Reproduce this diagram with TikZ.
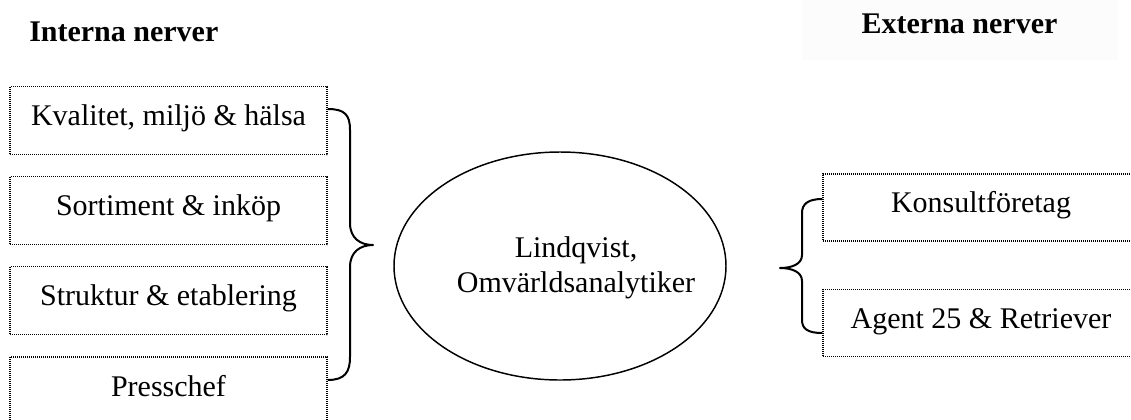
\documentclass[tikz,border=0pt]{standalone}
\usepackage{fontspec}
\setmainfont{Liberation Serif}
\usetikzlibrary{shapes.geometric}
\begin{document}
\begin{tikzpicture}[x=0.75pt,y=-0.75pt,
  txt/.style={font=\fontsize{22.5pt}{26.25pt}\selectfont, inner sep=0pt},
  dotbox/.style={txt, draw, line width=1.1pt, dash pattern=on 0.75pt off 0.75pt,
    text height=15pt, text depth=7.5pt},
  leftbox/.style={dotbox, minimum width=237.75pt, minimum height=51pt},
  rightbox/.style={dotbox, minimum width=237pt, minimum height=50.25pt},
  head/.style={txt, font=\fontsize{22.5pt}{26.25pt}\selectfont\bfseries},
  brace/.style={draw, line width=1.5pt, line join=round}]
\useasboundingbox (0,0) rectangle (1131,419);
\fill[white] (0,0) rectangle (1131,419);
\clip (0,0) rectangle (1131,419);
% faint header background
\fill[black!1] (802,0) rectangle (1118,60);
% headers
\node[head, anchor=base west] (int) at (29,41) {Interna nerver};
\node[head, anchor=base] (ext) at (959.5,33) {Externa nerver};
% left boxes
\node[leftbox] (k1) at (168.5,120.5) {Kvalitet, miljö \& hälsa};
\node[leftbox] (k2) at (168.5,210.5) {Sortiment \& inköp};
\node[leftbox] (k3) at (168.5,300.5) {Struktur \& etablering};
\node[leftbox] (k4) at (168.5,391) {Presschef};
% right boxes
\node[rightbox] (r1) at (981,207.5) {Konsultföretag};
\node[rightbox] (r2) at (981,323) {Agent 25 \& Retriever};
% ellipse
\node[ellipse, draw, line width=1.1pt, minimum width=249pt, minimum height=171pt, inner sep=0pt] (lind) at (560,266) {};
\node[txt, align=center] (lindtxt) at (576,267.5) {Lindqvist,\\Omvärldsanalytiker};
% left brace
\coordinate (lbt) at (k1.east |- 0,109);
\coordinate (lbb) at (k4.east |- 0,380);
\coordinate (lbtip) at (373,245);
\draw[brace] (lbt) .. controls (345,109) and (350,115) .. (350,130) -- (350,223)
  .. controls (350,238) and (360,245) .. (lbtip)
  .. controls (360,245) and (350,252) .. (350,267) -- (350,357)
  .. controls (350,372) and (345,380) .. (lbb);
% right brace
\coordinate (rbt) at (r1.west |- 0,199);
\coordinate (rbb) at (r2.west |- 0,333);
\coordinate (rbtip) at (780,268);
\draw[brace] (rbt) .. controls (808,199) and (802,204) .. (802,213) -- (802,255)
  .. controls (802,264) and (792,268) .. (rbtip)
  .. controls (792,268) and (802,272) .. (802,281) -- (802,320)
  .. controls (802,329) and (808,333) .. (rbb);
\end{tikzpicture}
\end{document}
